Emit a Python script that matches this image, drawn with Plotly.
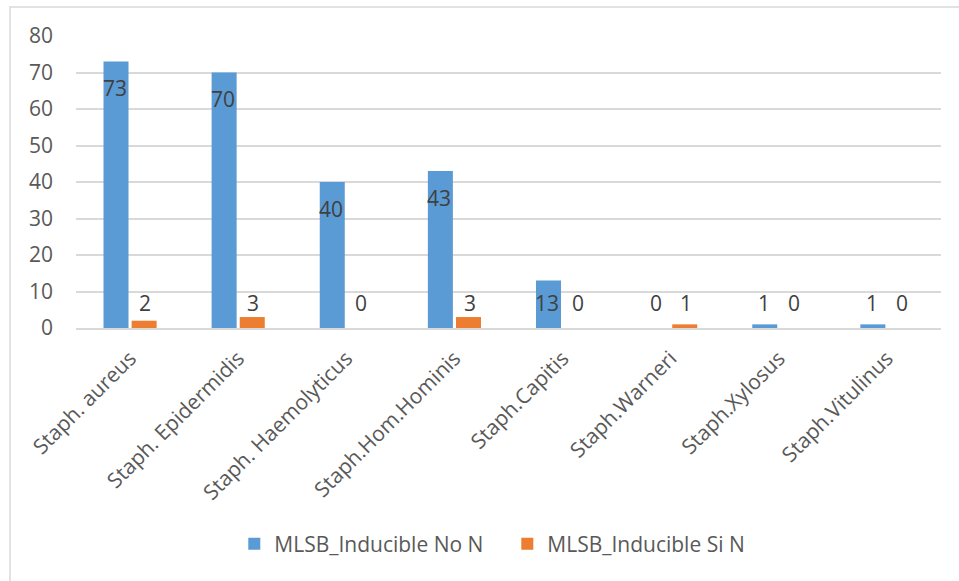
import plotly.graph_objects as go

categories = ["Staph. aureus", "Staph. Epidermidis", "Staph. Haemolyticus",
              "Staph.Hom.Hominis", "Staph.Capitis", "Staph.Warneri",
              "Staph.Xylosus", "Staph.Vitulinus"]
no_n = [73, 70, 40, 43, 13, 0, 1, 1]
si_n = [2, 3, 0, 3, 0, 1, 0, 0]
series_names = ["MLSB_Inducible No N", "MLSB_Inducible Si N"]
y_ticks = [0, 10, 20, 30, 40, 50, 60, 70, 80]

BLUE = "#5B9BD5"
ORANGE = "#ED7D31"
TEXT = "#595959"
LABEL = "#404040"
GRID = "#D9D9D9"
FONT = "Open Sans"
FS = 21

fig = go.Figure()
fig.add_trace(go.Bar(x=categories, y=no_n, name=series_names[0],
                     marker=dict(color=BLUE, line=dict(width=0))))
fig.add_trace(go.Bar(x=categories, y=si_n, name=series_names[1],
                     marker=dict(color=ORANGE, line=dict(width=0))))

# value labels: inside the top of each bar, kept above the baseline for short bars
n = len(categories)
annotations = []
for trace_idx, values in enumerate([no_n, si_n]):
    offset = -0.14 if trace_idx == 0 else 0.14
    for i, v in enumerate(values):
        annotations.append(dict(
            x=i + offset, y=max(v - 7.3, 6.8), xref="x", yref="y",
            text=str(v), showarrow=False,
            font=dict(family=FONT, size=FS, color=LABEL),
        ))

fig.update_layout(
    width=959, height=581,
    margin=dict(l=76, r=18, t=36, b=253),
    paper_bgcolor="white", plot_bgcolor="white",
    barmode="group", bargap=0.48, bargroupgap=0.11,
    font=dict(family=FONT, size=FS, color=TEXT),
    showlegend=True,
    legend=dict(orientation="h", x=0.183, xanchor="left", y=-0.74, yanchor="middle",
                font=dict(family=FONT, size=FS, color=TEXT),
                entrywidth=228, entrywidthmode="pixels",
                itemwidth=30, tracegroupgap=0),
    annotations=annotations,
    shapes=[dict(type="rect", xref="paper", yref="paper",
                 x0=-0.0763, x1=1.05, y0=-1.0, y1=1.099,
                 line=dict(color=GRID, width=1.5), layer="below")],
)
fig.update_xaxes(
    type="category", range=[-0.5, n - 0.5],
    tickangle=-45, showgrid=False, showline=True, linecolor=GRID, linewidth=1.5,
    ticks="", ticklabelstandoff=8, tickfont=dict(family=FONT, size=FS, color=TEXT),
)
fig.update_yaxes(
    range=[0, 80], tickvals=y_ticks, showgrid=True, gridcolor=GRID, gridwidth=1.5,
    zeroline=False, showline=False, ticks="", ticklabelstandoff=22,
    tickfont=dict(family=FONT, size=FS, color=TEXT),
)

fig.write_html("out.html")
